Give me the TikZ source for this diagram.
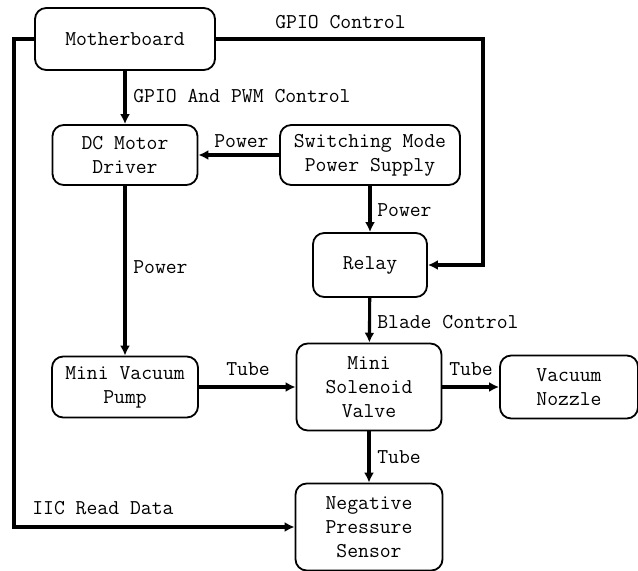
\documentclass[tikz,border=0pt]{standalone}
\usetikzlibrary{arrows.meta}
\tikzset{
  block/.style={draw, rounded corners=8pt, line width=1.3pt, align=center,
    inner sep=1pt, font=\ttfamily\fontsize{15}{17}\selectfont},
  link/.style={line width=2.2pt, -{Latex[length=7pt,width=7pt]}},
  tag/.style={font=\ttfamily\fontsize{15}{17}\selectfont, inner sep=0pt, anchor=west}
}
\begin{document}
\begin{tikzpicture}[x=0.025cm,y=-0.025cm]
\useasboundingbox (0,0) rectangle (638,571);
% blocks
\node[block, minimum width=4.5cm, minimum height=1.55cm] (mb) at (125,39) {Motherboard};
\node[block, minimum width=3.625cm, minimum height=1.5cm] (dc) at (125,155) {DC Motor\\Driver};
\node[block, minimum width=4.5cm, minimum height=1.5cm] (smps) at (370,155) {Switching Mode\\Power Supply};
\node[block, minimum width=2.85cm, minimum height=1.6cm] (relay) at (370,265) {Relay};
\node[block, minimum width=3.65cm, minimum height=1.525cm] (pump) at (125,387) {Mini Vacuum\\Pump};
\node[block, minimum width=3.625cm, minimum height=2.175cm] (valve) at (369,387) {Mini\\Solenoid\\Valve};
\node[block, minimum width=3.45cm, minimum height=1.575cm] (nozzle) at (569,387) {Vacuum\\Nozzle};
\node[block, minimum width=3.675cm, minimum height=2.175cm] (sensor) at (369,527) {Negative\\Pressure\\Sensor};
% bends
\coordinate (lt) at (14,39);
\coordinate (rt) at (483,39);
% links
\draw[link] (mb) -- (dc);
\draw[link] (smps) -- (dc);
\draw[link] (smps) -- (relay);
\draw[link] (dc) -- (pump);
\draw[link] (relay) -- (valve);
\draw[link] (pump) -- (valve);
\draw[link] (valve) -- (nozzle);
\draw[link] (valve) -- (sensor);
\draw[link] (mb.west) -- (lt) |- (sensor.west);
\draw[link] (mb.east) -- (rt) |- (relay.east);
% labels
\node[tag] (t1) at (275,22) {GPIO Control};
\node[tag] (t2) at (133,96) {GPIO And PWM Control};
\node[tag] (t3) at (214,141) {Power};
\node[tag] (t4) at (377,210) {Power};
\node[tag] (t5) at (133,267) {Power};
\node[tag] (t6) at (377,322) {Blade Control};
\node[tag] (t7) at (226,369) {Tube};
\node[tag] (t8) at (449,369) {Tube};
\node[tag] (t9) at (377,457) {Tube};
\node[tag] (t10) at (32,508) {IIC Read Data};
\end{tikzpicture}
\end{document}
